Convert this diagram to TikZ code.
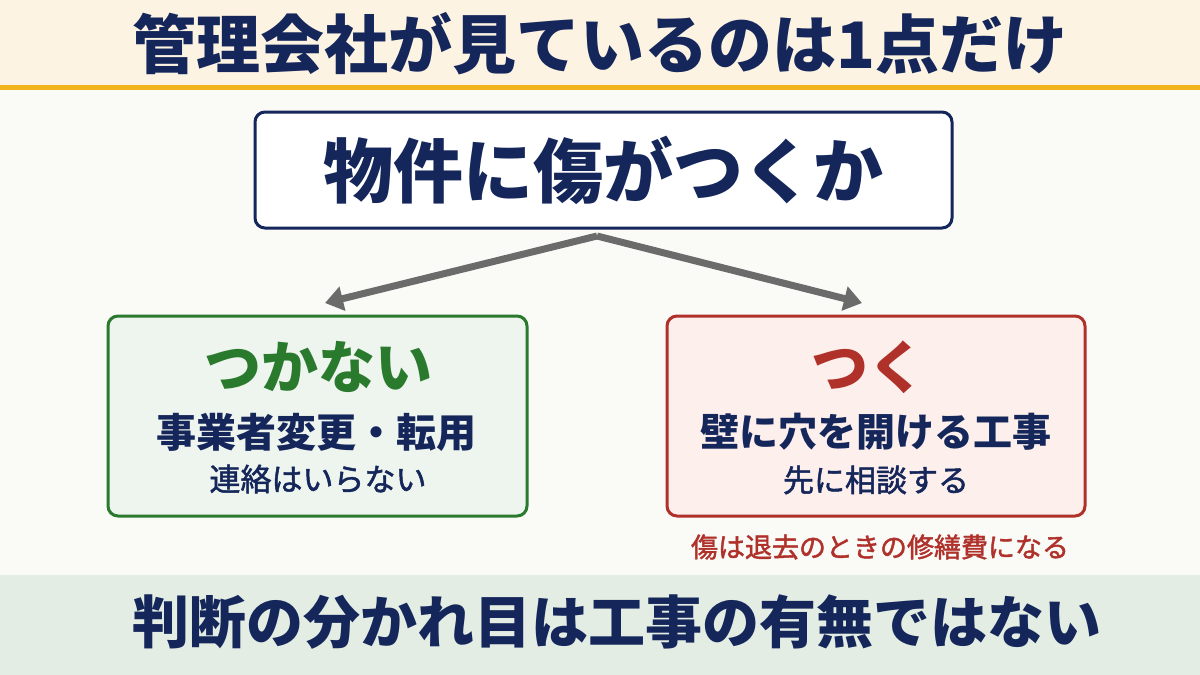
\documentclass[tikz,border=0pt]{standalone}
\usepackage{fontspec}
\setmainfont{Noto Sans CJK JP}
\newfontfamily\jpmed[FakeBold=1.6]{Noto Sans CJK JP}
\usetikzlibrary{arrows.meta}
\definecolor{navy}{HTML}{14265A}
\definecolor{headbg}{HTML}{FCF3E3}
\definecolor{gold}{HTML}{F2B41B}
\definecolor{mainbg}{HTML}{FAFAF7}
\definecolor{footbg}{HTML}{E3EDE3}
\definecolor{okgreen}{HTML}{2A7A2E}
\definecolor{okfill}{HTML}{EEF4EE}
\definecolor{ngred}{HTML}{B0302A}
\definecolor{ngfill}{HTML}{FCEFEC}
\definecolor{arrowgray}{HTML}{6B6B6B}
\tikzset{
  fs/.style={font=\fontsize{#1}{#1}\selectfont\bfseries},
  fm/.style={font=\jpmed\fontsize{#1}{#1}\selectfont},
  txt/.style={inner sep=0pt, anchor=center},
  card/.style={rounded corners=10pt, line width=3pt},
  fork/.style={draw=arrowgray, line width=7pt, -{Triangle[length=18pt,width=24pt]}}
}
\begin{document}
\begin{tikzpicture}[x=1pt,y=-1pt]
\useasboundingbox (0,0) rectangle (1200,675);
% backgrounds
\fill[mainbg] (0,0) rectangle (1200,675);
\fill[headbg] (0,0) rectangle (1200,87);
\fill[gold] (0,85) rectangle (1200,90);
\fill[footbg] (0,575) rectangle (1200,675);
% title
\node[txt, fs=64, text=navy] (title) at (600,44) {管理会社が見ているのは1点だけ};
% top box
\draw[card, draw=navy, fill=white] (255,112) rectangle (952,228);
\node[txt, fs=70, text=navy] (q) at (603,170) {物件に傷がつくか};
% arrows
\coordinate (fork) at (597,236);
\coordinate (ltip) at (325,303);
\coordinate (rtip) at (862,303);
\draw[fork] (fork) -- (ltip);
\draw[fork] (fork) -- (rtip);
% left box
\draw[card, draw=okgreen, fill=okfill] (108,316) rectangle (527,516);
\node[txt, fs=57, text=okgreen] (no) at (318,367) {つかない};
\node[txt, fs=40, text=navy] (no2) at (316,432) {事業者変更・転用};
\node[txt, fm=31, text=navy] (no3) at (318,479) {連絡はいらない};
% right box
\draw[card, draw=ngred, fill=ngfill] (667,316) rectangle (1085,516);
\node[txt, fs=57, text=ngred] (yes) at (868,367) {つく};
\node[txt, fs=39, text=navy] (yes2) at (876,432) {壁に穴を開ける工事};
\node[txt, fm=31, text=navy] (yes3) at (876,480) {先に相談する};
\node[txt, fm=27, text=ngred] (note) at (880,547) {傷は退去のときの修繕費になる};
% footer
\node[txt, fs=57, text=navy] (foot) at (617,622) {判断の分かれ目は工事の有無ではない};
\end{tikzpicture}
\end{document}
